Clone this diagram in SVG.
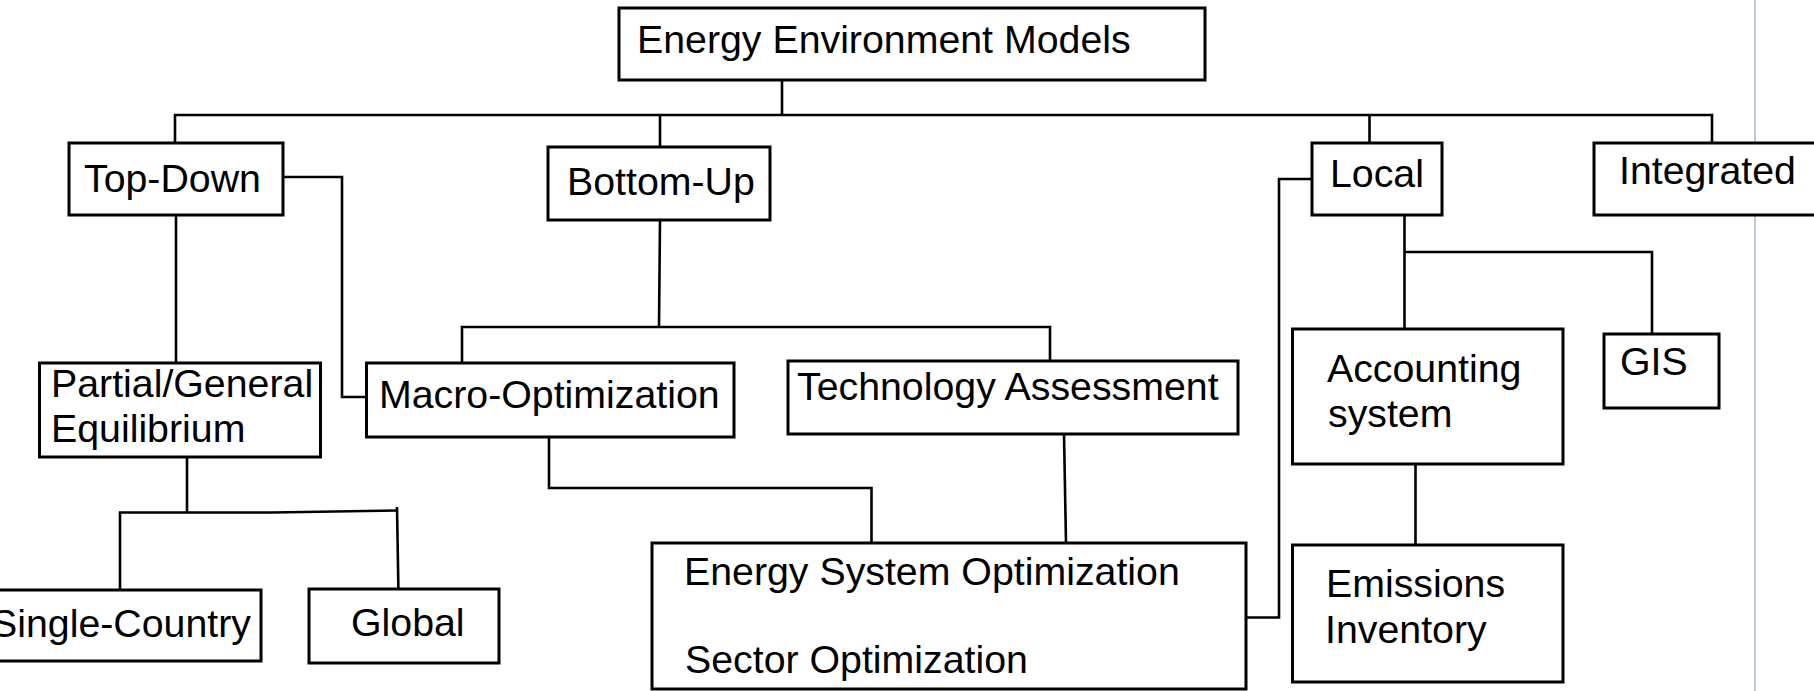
<svg xmlns="http://www.w3.org/2000/svg" width="1814" height="691" viewBox="0 0 1814 691">
  <style>
    .box { fill: #ffffff; stroke: #000000; stroke-width: 3; }
    .lbl { font-family: "Liberation Sans", Arial, sans-serif; font-size: 39.3px; fill: #000000; }
    .wire { fill: none; stroke: #000000; stroke-width: 2.6; stroke-linejoin: miter; }
  </style>
  <rect width="1814" height="691" fill="#ffffff"/>

  <!-- page margin guide -->
  <line x1="1755" y1="0" x2="1755" y2="691" stroke="#b5cde0" stroke-width="2"/>

  <g id="connectors">
    <path class="wire" d="M782,80 V115"/>
    <path class="wire" d="M175,143 V115 H1712 V143"/>
    <path class="wire" d="M660,115 V147"/>
    <path class="wire" d="M1369.5,115 V143"/>
    <path class="wire" d="M176,215 V363"/>
    <path class="wire" d="M283,177 H342 V397 H366.5"/>
    <path class="wire" d="M660,220 L659,327"/>
    <path class="wire" d="M462,363 V327 H1050 V361"/>
    <path class="wire" d="M549,437 V488 H871.5 V543"/>
    <path class="wire" d="M1064,434 L1066,543"/>
    <path class="wire" d="M187,457 V512.5"/>
    <path class="wire" d="M120,590 V512.5 H272 L397,510.5"/>
    <path class="wire" d="M397,507 L398.5,595"/>
    <path class="wire" d="M1312,179 H1279 V617.5 H1246"/>
    <path class="wire" d="M1404.5,215 V329"/>
    <path class="wire" d="M1404.5,252 H1652 V334"/>
    <path class="wire" d="M1415.5,464 V545"/>
  </g>

  <g id="energy-environment-models">
    <rect class="box" x="619" y="8" width="586" height="72"/>
    <text class="lbl" x="637" y="53">Energy Environment Models</text>
  </g>
  <g id="top-down">
    <rect class="box" x="69" y="143" width="214" height="72"/>
    <text class="lbl" x="84" y="192">Top-Down</text>
  </g>
  <g id="bottom-up">
    <rect class="box" x="548" y="147" width="222" height="73"/>
    <text class="lbl" x="567" y="195">Bottom-Up</text>
  </g>
  <g id="local">
    <rect class="box" x="1312" y="143" width="130" height="72"/>
    <text class="lbl" x="1330" y="187">Local</text>
  </g>
  <g id="integrated">
    <rect class="box" x="1594" y="143" width="240" height="72"/>
    <text class="lbl" x="1619" y="184">Integrated</text>
  </g>
  <g id="partial-general-equilibrium">
    <rect class="box" x="39.5" y="363" width="281" height="94"/>
    <text class="lbl" x="51" y="397">Partial/General</text>
    <text class="lbl" x="51" y="442">Equilibrium</text>
  </g>
  <g id="macro-optimization">
    <rect class="box" x="366.5" y="363" width="367.5" height="74"/>
    <text class="lbl" x="379" y="408">Macro-Optimization</text>
  </g>
  <g id="technology-assessment">
    <rect class="box" x="788" y="361" width="450" height="73"/>
    <text class="lbl" x="797" y="400">Technology Assessment</text>
  </g>
  <g id="energy-system-optimization">
    <rect class="box" x="652" y="543" width="594" height="146"/>
    <text class="lbl" x="684" y="585">Energy System Optimization</text>
    <text class="lbl" x="685" y="673">Sector Optimization</text>
  </g>
  <g id="single-country">
    <rect class="box" x="-10" y="590" width="271" height="71"/>
    <text class="lbl" x="-9" y="637">Single-Country</text>
  </g>
  <g id="global">
    <rect class="box" x="309" y="589" width="190" height="74"/>
    <text class="lbl" x="351" y="636">Global</text>
  </g>
  <g id="accounting-system">
    <rect class="box" x="1292.5" y="329" width="270.5" height="135"/>
    <text class="lbl" x="1327" y="382">Accounting</text>
    <text class="lbl" x="1328" y="427">system</text>
  </g>
  <g id="emissions-inventory">
    <rect class="box" x="1292.5" y="545" width="270.5" height="137"/>
    <text class="lbl" x="1326" y="597">Emissions</text>
    <text class="lbl" x="1325" y="643">Inventory</text>
  </g>
  <g id="gis">
    <rect class="box" x="1604" y="334" width="115" height="74"/>
    <text class="lbl" x="1620" y="375">GIS</text>
  </g>
</svg>
